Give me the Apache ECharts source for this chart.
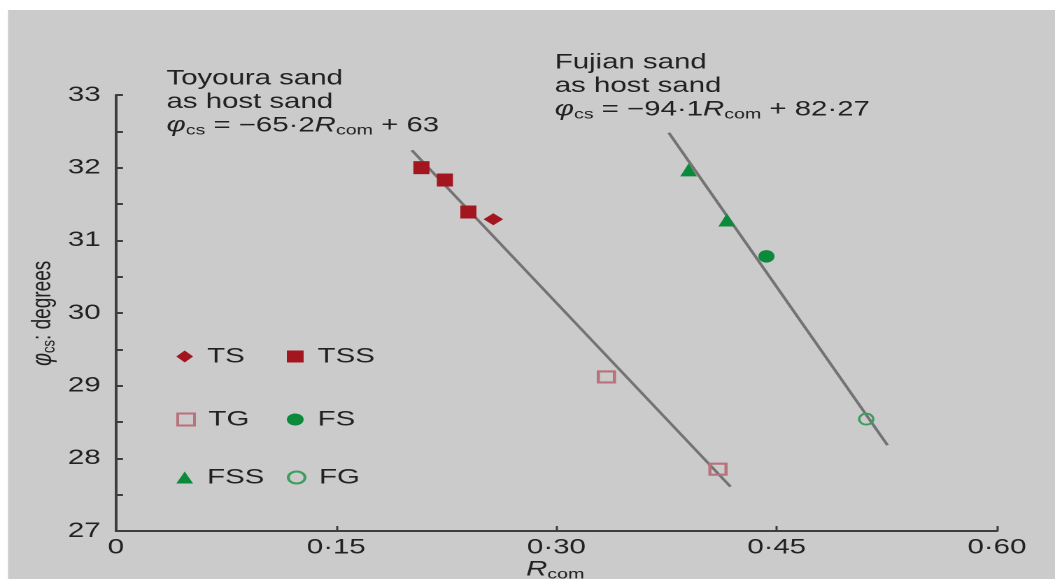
<!DOCTYPE html>
<html>
<head>
<meta charset="utf-8">
<script src="https://cdn.jsdelivr.net/npm/echarts@6/dist/echarts.min.js"></script>
<style>
  html, body { margin: 0; padding: 0; background: #fff; overflow: hidden; }
  /* the source figure is stretched sideways, so draw narrow and widen it */
  #main { width: 754px; height: 579px; transform: scaleX(1.3992); transform-origin: 0 0; }
</style>
</head>
<body>
<div id="main"></div>
<script>
// values: [R_com, phi_cs]
var tsData  = [[0.257, 31.29]];
var tssData = [[0.208, 32.0], [0.224, 31.83], [0.240, 31.39]];
var tgData  = [[0.334, 29.12], [0.410, 27.85]];
var fsData  = [[0.443, 30.78]];
var fssData = [[0.390, 31.97], [0.416, 31.28]];
var fgData  = [[0.511, 28.54]];

// end points of the two fitted lines
var toyouraFit = [[0.2015, 32.24], [0.4185, 27.61]];
var fujianFit  = [[0.3765, 32.48], [0.5255, 28.18]];

var xTicks = [0, 0.15, 0.30, 0.45, 0.60];

var font = 'Liberation Sans, Arial, sans-serif';
var textCol = '#222';
var red = '#a3161f';
var green = '#0b8a3c';

var chart = echarts.init(document.getElementById('main'), null, { devicePixelRatio: 2 });

function scatter(name, data, symbol, size, style) {
  style.opacity = 1;
  return {
    name: name,
    type: 'scatter',
    data: data,
    symbol: symbol,
    symbolSize: size,
    itemStyle: style,
    z: 5
  };
}

function fitLine(name, data) {
  return {
    name: name,
    type: 'line',
    data: data,
    symbol: 'none',
    lineStyle: { color: '#737373', width: 2.2 },
    z: 3,
    silent: true
  };
}

function legendItem(name, left, top) {
  return {
    data: [name],
    left: left,
    top: top,
    itemWidth: 12,
    itemHeight: 12,
    selectedMode: false,
    textStyle: { fontFamily: font, fontSize: 21, color: textCol, padding: [0, 0, 0, 5] }
  };
}

var rich = {
  i: { fontStyle: 'italic', fontSize: 21, fill: textCol, fontFamily: font },
  s: { fontSize: 14, padding: [10, 0, 0, 0], fill: textCol, fontFamily: font }
};

var option = {
  animation: false,
  graphic: [
    { type: 'rect', z: -10, silent: true,
      shape: { x: 5.7, y: 10, width: 760, height: 569 },
      style: { fill: '#cbcbcb' } },
    { type: 'text', left: 119, top: 67,
      style: {
        text: 'Toyoura sand\nas host sand\n{i|φ}{s|cs} = −65·2{i|R}{s|com} + 63',
        font: '21px ' + font, fill: textCol, lineHeight: 23.5, rich: rich
      } },
    { type: 'text', left: 396.5, top: 51,
      style: {
        text: 'Fujian sand\nas host sand\n{i|φ}{s|cs} = −94·1{i|R}{s|com} + 82·27',
        font: '21px ' + font, fill: textCol, lineHeight: 23.5, rich: rich
      } },
    { type: 'text', left: 376, top: 559,
      style: { text: '{i|R}{s|com}', font: '21px ' + font, fill: textCol, rich: rich } },
    { type: 'text', x: 20, y: 366, rotation: Math.PI / 2,
      style: {
        text: '{i|φ}{s|cs}: degrees',
        font: '19px ' + font, fill: textCol,
        rich: {
          i: { fontStyle: 'italic', fontSize: 20, fill: textCol, fontFamily: font },
          s: { fontSize: 13, padding: [9, 0, 0, 0], fill: textCol, fontFamily: font }
        }
      } }
  ],
  legend: [
    legendItem('TS', 121, 341),
    legendItem('TSS', 200, 341),
    legendItem('TG', 121, 404),
    legendItem('FS', 200, 404),
    legendItem('FSS', 121, 462),
    legendItem('FG', 200, 462)
  ],
  grid: { left: 82.9, right: 41.5, top: 95, bottom: 48 },
  xAxis: {
    type: 'value',
    min: 0,
    max: 0.6,
    interval: 0.15,
    splitLine: { show: false },
    axisLine: { lineStyle: { color: '#3d3d3d', width: 2 } },
    axisTick: { inside: true, length: 5, lineStyle: { color: '#3d3d3d', width: 1.5 } },
    axisLabel: {
      margin: 6,
      fontFamily: font, fontSize: 21, color: textCol,
      formatter: function (v) {
        if (xTicks.indexOf(+v.toFixed(2)) < 0) return '';
        return v === 0 ? '0' : v.toFixed(2).replace('.', '·');
      }
    }
  },
  yAxis: {
    type: 'value',
    min: 27,
    max: 33,
    interval: 1,
    splitLine: { show: false },
    axisLine: { lineStyle: { color: '#3d3d3d', width: 2 } },
    axisTick: { inside: true, length: 5, lineStyle: { color: '#3d3d3d', width: 2 } },
    minorTick: { show: true, splitNumber: 2, length: 5, lineStyle: { color: '#3d3d3d', width: 2 } },
    axisLabel: {
      margin: 11,
      fontFamily: font, fontSize: 21, color: textCol
    }
  },
  series: [
    fitLine('Toyoura fit', toyouraFit),
    fitLine('Fujian fit', fujianFit),
    scatter('TS', tsData, 'diamond', [14, 12], { color: red }),
    scatter('TSS', tssData, 'rect', [11.5, 13], { color: red }),
    scatter('TG', tgData, 'rect', [11.5, 11],
      { color: 'rgba(0,0,0,0)', borderColor: '#b9717b', borderWidth: 2.2 }),
    scatter('FS', fsData, 'circle', [11.5, 12.5], { color: green }),
    scatter('FSS', fssData, 'triangle', [12, 13], { color: green }),
    scatter('FG', fgData, 'circle', [10, 11],
      { color: 'rgba(0,0,0,0)', borderColor: '#3f9c5f', borderWidth: 1.8 })
  ]
};

chart.setOption(option);
</script>
</body>
</html>
